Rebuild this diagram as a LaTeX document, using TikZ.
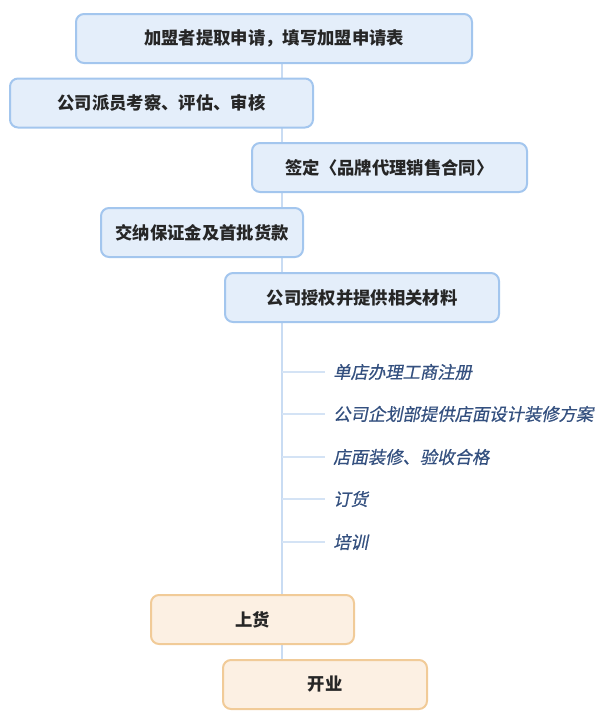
\documentclass[tikz,border=0pt]{standalone}
\usepackage{fontspec}
\newfontfamily\cjk{Noto Sans CJK SC}
\newfontfamily\cjksl[FakeSlant=0.2, FakeBold=0.6]{Noto Sans CJK SC}
\usetikzlibrary{backgrounds}

\definecolor{bluefill}{HTML}{E4EEFA}
\definecolor{blueline}{HTML}{A3C6EE}
\definecolor{orangefill}{HTML}{FCF0E3}
\definecolor{orangeline}{HTML}{F1CB98}
\definecolor{spinecol}{HTML}{C9DCF3}
\definecolor{subtext}{HTML}{34507F}

\tikzset{
    stepbox/.style={draw=blueline, fill=bluefill, line width=1.5pt,
        rounded corners=6pt, minimum height=36.75pt, inner sep=0pt,
        font=\cjk\bfseries\fontsize{13}{15}\selectfont, text=black!85},
    endbox/.style={stepbox, draw=orangeline, fill=orangefill},
    subitem/.style={anchor=west, inner xsep=6pt, inner ysep=0pt,
        font=\cjksl\fontsize{13}{15}\selectfont, text=subtext},
    spine/.style={draw=spinecol, line width=1.2pt},
    branch/.style={draw=spinecol!80, line width=0.9pt}
}

\begin{document}
\begin{tikzpicture}[x=0.75pt, y=-0.75pt]
    \useasboundingbox (0,0) rectangle (610,725);

    % x of the vertical line
    \def\spx{282}

    % main steps
    \node[stepbox, minimum width=297pt] (b1) at (274,38.5) {加盟者提取申请，填写加盟申请表};
    \node[stepbox, minimum width=227.25pt] (b2) at (161.5,103) {公司派员考察、评估、审核};
    \node[stepbox, minimum width=206.25pt] (b3) at (389.5,167.5) {签定〈品牌代理销售合同〉};
    \node[stepbox, minimum width=151.5pt] (b4) at (202,232.5) {交纳保证金及首批货款};
    \node[stepbox, minimum width=205.5pt] (b5) at (362,297.5) {公司授权并提供相关材料};

    % sub steps
    \node[subitem] (s1) at (325,372) {单店办理工商注册};
    \node[subitem] (s2) at (325,414) {公司企划部提供店面设计装修方案};
    \node[subitem] (s3) at (325,457) {店面装修、验收合格};
    \node[subitem] (s4) at (325,499) {订货};
    \node[subitem] (s5) at (325,542) {培训};

    % last steps
    \node[endbox, minimum width=152.25pt] (b6) at (252.5,619.5) {上货};
    \node[endbox, minimum width=153pt] (b7) at (325,684.5) {开业};

    \coordinate (sp) at (\spx,0);

    \begin{scope}[on background layer]
        % vertical line behind the boxes
        \draw[spine] (sp |- b1.south) -- (sp |- b7.north);
        % branches to the sub steps
        \foreach \s in {s1,s2,s3,s4,s5}
            \draw[branch] (sp |- \s.west) -- (\s.west);
    \end{scope}
\end{tikzpicture}
\end{document}
